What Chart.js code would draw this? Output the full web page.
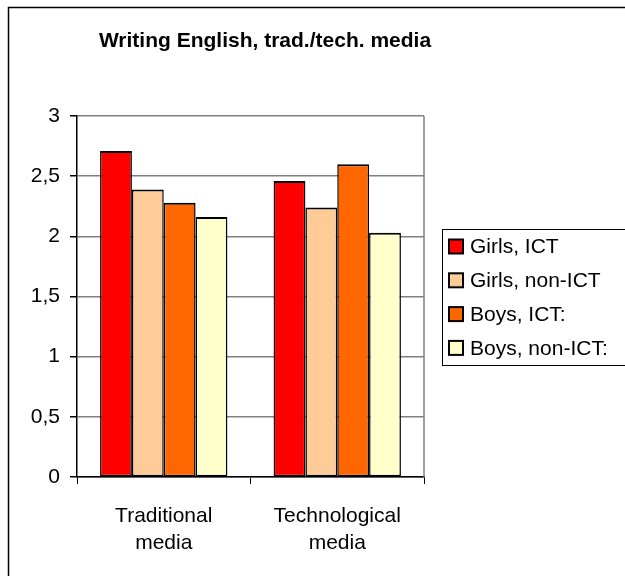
<!DOCTYPE html>
<html>
<head>
<meta charset="utf-8">
<script src="https://cdn.jsdelivr.net/npm/chart.js@4/dist/chart.umd.min.js"></script>
<style>
  body { margin: 0; background: #fff; }
  #wrap { width: 625px; height: 576px; }
</style>
</head>
<body>
<div id="wrap"><canvas id="writing-chart" width="625" height="576"></canvas></div>
<script>
// data --------
const categories = [['Traditional', 'media'], ['Technological', 'media']];
const seriesNames = ['Girls, ICT', 'Girls, non-ICT', 'Boys, ICT:', 'Boys, non-ICT:'];
const girlsIct = [2.71, 2.46];
const girlsNonIct = [2.39, 2.24];
const boysIct = [2.28, 2.60];
const boysNonIct = [2.16, 2.03];
const yTicks = [0, 0.5, 1, 1.5, 2, 2.5, 3];
const colors = ['#ff0000', '#ffcc99', '#ff6600', '#ffffcc'];

const FONT = "'Liberation Sans', Arial, sans-serif";

// title, legend box and frame drawn on top of the chart ------
const decorations = {
  id: 'decorations',
  afterDraw(chart) {
    const c = chart.ctx;
    const area = chart.chartArea;
    c.save();

    // outer frame (left + top edges visible)
    c.strokeStyle = '#000';
    c.lineWidth = 1.5;
    c.strokeRect(8.5, 7.5, 700, 700);

    // right edge of the plot area
    c.strokeStyle = '#808080';
    c.lineWidth = 1.5;
    c.beginPath();
    c.moveTo(area.right, area.top);
    c.lineTo(area.right, area.bottom);
    c.stroke();

    // title
    c.fillStyle = '#000';
    c.font = 'bold 21px ' + FONT;
    c.textAlign = 'center';
    c.textBaseline = 'alphabetic';
    c.fillText('Writing English, trad./tech. media', 265, 46.5);

    // legend
    c.strokeStyle = '#000';
    c.lineWidth = 1;
    c.strokeRect(442.5, 229.5, 300, 136);
    c.font = '21px ' + FONT;
    c.textAlign = 'left';
    c.textBaseline = 'middle';
    chart.data.datasets.forEach(function (ds, i) {
      const cy = 246.5 + i * 33.8;
      c.fillStyle = ds.backgroundColor;
      c.fillRect(449, cy - 7, 14, 14);
      c.lineWidth = 2;
      c.strokeStyle = '#000';
      c.strokeRect(449, cy - 7, 14, 14);
      c.fillStyle = '#000';
      c.fillText(ds.label, 470, cy + 1);
    });
    c.restore();
  }
};

const seriesValues = [girlsIct, girlsNonIct, boysIct, boysNonIct];

const ctx = document.getElementById('writing-chart').getContext('2d');
new Chart(ctx, {
  type: 'bar',
  data: {
    labels: categories,
    datasets: seriesValues.map(function (vals, i) {
      return {
        label: seriesNames[i],
        data: vals,
        backgroundColor: colors[i],
        borderColor: '#000',
        borderWidth: { top: 2, left: 1.5, right: 1.5, bottom: 1.5 },
        borderSkipped: false,
        categoryPercentage: 0.734,
        barPercentage: 1
      };
    })
  },
  options: {
    responsive: false,
    devicePixelRatio: 1,
    animation: false,
    layout: { padding: { top: 116, left: 0, right: 201, bottom: 0 } },
    plugins: {
      legend: { display: false },
      title: { display: false },
      tooltip: { enabled: false }
    },
    scales: {
      x: {
        afterFit: function (scale) { scale.height = 99; },
        grid: {
          display: true,
          drawOnChartArea: false,
          offset: true,
          tickLength: 7,
          tickColor: '#000',
          lineWidth: 1
        },
        border: { color: '#000', width: 1.5 },
        ticks: {
          color: '#000',
          padding: 19,
          font: { family: FONT, size: 21, lineHeight: 1.27 },
          maxRotation: 0
        }
      },
      y: {
        min: 0,
        max: 3,
        afterFit: function (scale) { scale.width = 77; },
        afterBuildTicks: function (scale) {
          scale.ticks = yTicks.map(function (v) { return { value: v }; });
        },
        grid: {
          color: '#808080',
          lineWidth: 1.5,
          tickLength: 7,
          tickColor: '#000'
        },
        border: { color: '#000', width: 1.5 },
        ticks: {
          color: '#000',
          padding: 10,
          font: { family: FONT, size: 21 },
          callback: function (v) { return String(v).replace('.', ','); }
        }
      }
    }
  },
  plugins: [decorations]
});
</script>
</body>
</html>
